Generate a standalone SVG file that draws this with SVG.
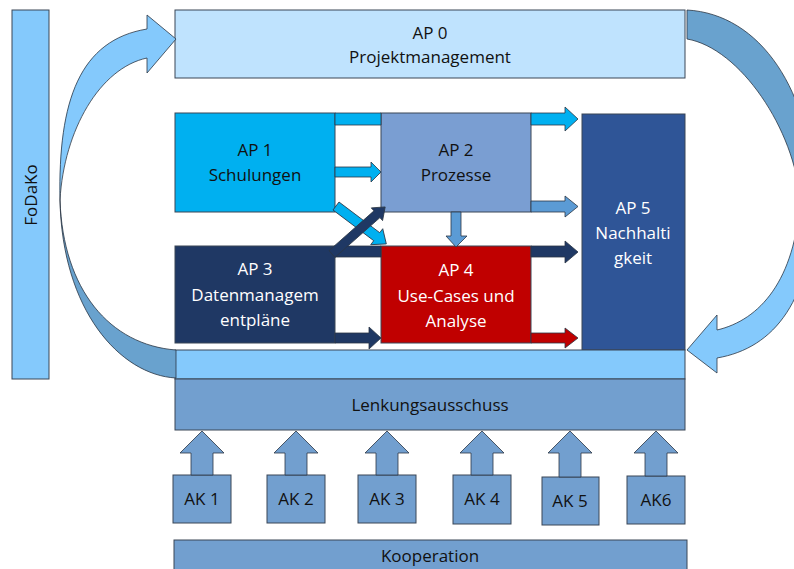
<svg xmlns="http://www.w3.org/2000/svg" width="794" height="569" viewBox="0 0 794 569">
  <style>
    text { font-family: "Open Sans", "Liberation Sans", sans-serif; font-size: 17px; text-anchor: middle; fill: #111111; }
    text.light { fill: #ffffff; }
    .box { stroke: #3a4656; stroke-width: 1; }
    .arr { stroke: #2b3644; stroke-width: 0.8; stroke-linejoin: miter; }
    .sky { fill: #84C9FC; }
    .skyDark { fill: #69A2CE; }
    .steel { fill: #729FCF; }
  </style>

  <!-- side bar -->
  <g id="fodako">
    <rect class="box sky" x="12" y="10" width="37" height="369"/>
    <text transform="translate(37,195) rotate(-90)">FoDaKo</text>
  </g>

  <!-- work packages -->
  <g id="ap0">
    <rect class="box" x="175" y="10" width="510" height="68" fill="#BFE3FE"/>
    <text x="430" y="39">AP 0</text>
    <text x="430" y="63">Projektmanagement</text>
  </g>
  <g id="ap1">
    <rect class="box" x="175" y="113" width="160" height="99" fill="#00B0F0"/>
    <text x="255" y="156">AP 1</text>
    <text x="255" y="181">Schulungen</text>
  </g>
  <g id="ap2">
    <rect class="box" x="381" y="113" width="150" height="99" fill="#7A9ED2"/>
    <text x="456" y="156">AP 2</text>
    <text x="456" y="181">Prozesse</text>
  </g>
  <g id="ap3">
    <rect class="box" x="175" y="246" width="160" height="97" fill="#1F3864"/>
    <text class="light" x="255" y="275">AP 3</text>
    <text class="light" x="255" y="301">Datenmanagem</text>
    <text class="light" x="255" y="326">entpläne</text>
  </g>
  <g id="ap4">
    <rect class="box" x="381" y="246" width="150" height="97" fill="#C00000"/>
    <text class="light" x="456" y="276">AP 4</text>
    <text class="light" x="456" y="302">Use-Cases und</text>
    <text class="light" x="456" y="327">Analyse</text>
  </g>
  <g id="ap5">
    <rect class="box" x="582" y="114" width="103" height="236" fill="#2F5597"/>
    <text class="light" x="633" y="214">AP 5</text>
    <text class="light" x="633" y="239">Nachhalti</text>
    <text class="light" x="633" y="264">gkeit</text>
  </g>

  <!-- steering layer -->
  <g id="band">
    <rect class="box sky" x="175" y="350" width="510" height="29"/>
  </g>
  <g id="lenkungsausschuss">
    <rect class="box steel" x="175" y="379" width="510" height="51"/>
    <text x="430" y="411">Lenkungsausschuss</text>
  </g>

  <!-- working groups -->
  <g id="ak1">
    <rect class="box steel" x="173" y="475" width="58" height="48"/>
    <text x="202" y="505">AK 1</text>
  </g>
  <g id="ak2">
    <rect class="box steel" x="267" y="475" width="58" height="48"/>
    <text x="296" y="505">AK 2</text>
  </g>
  <g id="ak3">
    <rect class="box steel" x="358" y="475" width="58" height="48"/>
    <text x="387" y="505">AK 3</text>
  </g>
  <g id="ak4">
    <rect class="box steel" x="453" y="475" width="58" height="49"/>
    <text x="482" y="505">AK 4</text>
  </g>
  <g id="ak5">
    <rect class="box steel" x="542" y="477" width="57" height="48"/>
    <text x="570" y="507">AK 5</text>
  </g>
  <g id="ak6">
    <rect class="box steel" x="627" y="476" width="58" height="48"/>
    <text x="656" y="506">AK6</text>
  </g>

  <g id="kooperation">
    <rect class="box steel" x="174" y="540" width="513" height="40"/>
    <text x="430" y="562">Kooperation</text>
  </g>

  <!-- connectors -->
  <g id="connectors">
    <!-- AP 1 to AP 5, running behind AP 2 -->
    <path class="arr" fill="#00B0F0" d="M335,113 H381 V125 H335 Z M531,113 H565 V107 L578,119 L565,131 V125 H531 Z"/>
    <!-- AP 3 to AP 5, running behind AP 4 -->
    <path class="arr" fill="#1F3864" d="M335,246 H381 V257 H335 Z M531,246 H565 V241 L578,252 L565,263 V257 H531 Z"/>
    <!-- AP 1 to AP 2 -->
    <path class="arr" fill="#00B0F0" d="M335,167 H371 V162 L381,172 L371,182 V177 H335 Z"/>
    <!-- AP 2 to AP 5 -->
    <path class="arr" fill="#5B9BD5" d="M531,201 H565 V196 L578,206.5 L565,217 V212 H531 Z"/>
    <!-- AP 2 to AP 4 -->
    <path class="arr" fill="#5B9BD5" d="M451,212 V236 H446 L456,247 L467,236 H461 V212 Z"/>
    <!-- AP 3 to AP 4 -->
    <path class="arr" fill="#1F3864" d="M335,333 H369 V327 L381,338 L369,349 V343 H335 Z"/>
    <!-- AP 4 to AP 5 -->
    <path class="arr" fill="#C00000" d="M531,333 H565 V328 L578,338 L565,348 V343 H531 Z"/>
    <!-- AP 1 to AP 4, diagonal -->
    <path class="arr" fill="#00B0F0" transform="translate(336,206) rotate(37)" d="M0,-5 H51 V-10 L63,0 L51,10 V5 H0 Z"/>
    <!-- AP 3 to AP 2, diagonal -->
    <path class="arr" fill="#1F3864" transform="translate(332,254) rotate(-41.5)" d="M0,-4.5 H60 V-8.5 L71,0 L60,8.5 V4.5 H0 Z"/>

    <!-- working groups feed the steering committee -->
    <path class="arr steel" d="M191,475 V453 H180 L202,431 L224,453 H213 V475 Z"/>
    <path class="arr steel" d="M285,475 V453 H274 L296,431 L318,453 H307 V475 Z"/>
    <path class="arr steel" d="M376,475 V453 H365 L387,431 L409,453 H398 V475 Z"/>
    <path class="arr steel" d="M471,475 V453 H460 L482,431 L504,453 H493 V475 Z"/>
    <path class="arr steel" d="M559,477 V453 H548 L570,431 L592,453 H581 V477 Z"/>
    <path class="arr steel" d="M645,476 V453 H634 L656,431 L678,453 H667 V476 Z"/>

    <!-- loop on the left: band back up to AP 0 -->
    <path class="arr skyDark" d="M176,378 C120,375 62,310 60,200 C63,290 110,345 176,350 Z"/>
    <path class="arr sky" d="M60,200 C58,100 80,40 147,29 V15 L176,39 L147,73 V58 C100,68 64,130 60,200 Z"/>

    <!-- loop on the right: AP 0 down to the band -->
    <path class="arr skyDark" d="M687,10 C760,14 812,90 815,200 L800,200 C795,130 740,48 687,39 Z"/>
    <path class="arr sky" d="M815,200 C812,300 775,348 717,358 V373 L687,350 L717,315 V330 C760,320 795,280 800,200 Z"/>
  </g>
</svg>
